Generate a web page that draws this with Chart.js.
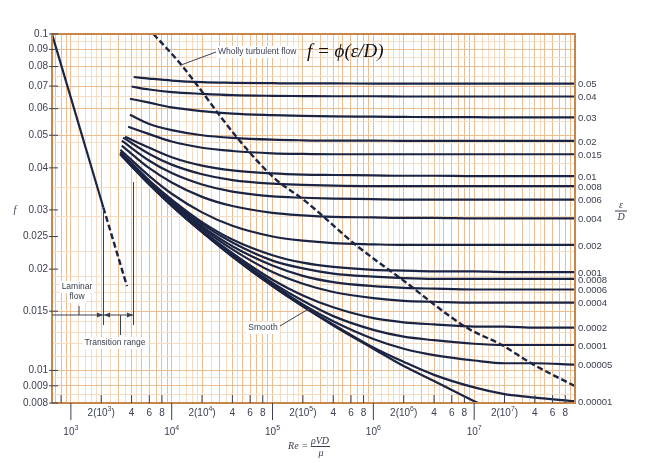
<!DOCTYPE html>
<html>
<head>
<meta charset="utf-8">
<script src="https://cdn.jsdelivr.net/npm/chart.js@4.4.1/dist/chart.umd.min.js"></script>
<style>
  html, body { margin: 0; background: #fff; }
</style>
</head>
<body>
<canvas id="myChart" width="656" height="463"></canvas>
<script>
// Reynolds numbers shared by every roughness curve (after its own start point)
const reGrid = [6e3, 1e4, 2e4, 4e4, 1e5, 2e5, 4e5, 1e6, 2e6, 4e6, 1e7, 2e7, 4e7, 1e8];

const roughLabels = ["0.05", "0.04", "0.03", "0.02", "0.015", "0.01", "0.008", "0.006", "0.004",
    "0.002", "0.001", "0.0008", "0.0006", "0.0004", "0.0002", "0.0001", "0.00005", "0.00001", "smooth"];
const startRe = [4200, 4000, 3850, 3850, 3700, 3450, 3300, 3200, 3200,
    3100, 3100, 3100, 3100, 3100, 3100, 3100, 3100, 3100, 3100];
const startF = [0.0745, 0.0698, 0.0642, 0.0575, 0.0530, 0.0495, 0.0492, 0.0482, 0.0466,
    0.0453, 0.0446, 0.0444, 0.0443, 0.0441, 0.0440, 0.0439, 0.0439, 0.0439, 0.0439];
const fValues = [
    [0.0737, 0.0727, 0.0719, 0.0716, 0.0714, 0.0713, 0.0713, 0.0712, 0.0712, 0.0712, 0.0712, 0.0712, 0.0712, 0.0712],
    [0.0684, 0.0672, 0.0664, 0.0658, 0.0655, 0.0654, 0.0653, 0.0653, 0.0652, 0.0652, 0.0652, 0.0652, 0.0652, 0.0652],
    [0.0625, 0.0605, 0.0590, 0.0580, 0.0574, 0.0571, 0.0569, 0.0568, 0.0567, 0.0566, 0.0566, 0.0565, 0.0565, 0.0565],
    [0.0540, 0.0518, 0.0500, 0.0491, 0.0485, 0.0483, 0.0482, 0.0482, 0.0481, 0.0481, 0.0481, 0.0481, 0.0481, 0.0481],
    [0.0504, 0.0479, 0.0459, 0.0449, 0.0442, 0.0440, 0.0439, 0.0439, 0.0439, 0.0439, 0.0439, 0.0439, 0.0439, 0.0439],
    [0.0459, 0.0430, 0.0406, 0.0393, 0.0385, 0.0382, 0.0381, 0.0380, 0.0379, 0.0379, 0.0378, 0.0378, 0.0378, 0.0378],
    [0.0440, 0.0409, 0.0383, 0.0368, 0.0359, 0.0356, 0.0354, 0.0353, 0.0353, 0.0353, 0.0353, 0.0353, 0.0353, 0.0353],
    [0.0420, 0.0386, 0.0357, 0.0340, 0.0329, 0.0326, 0.0324, 0.0323, 0.0322, 0.0322, 0.0322, 0.0322, 0.0322, 0.0322],
    [0.0399, 0.0362, 0.0328, 0.0308, 0.0294, 0.0289, 0.0286, 0.0285, 0.0284, 0.0284, 0.0283, 0.0283, 0.0283, 0.0283],
    [0.0378, 0.0335, 0.0295, 0.0269, 0.0250, 0.0243, 0.0239, 0.0237, 0.0236, 0.0236, 0.0236, 0.0236, 0.0236, 0.0236],
    [0.0367, 0.0322, 0.0276, 0.0245, 0.0220, 0.0209, 0.0203, 0.0199, 0.0198, 0.0197, 0.0197, 0.0196, 0.0196, 0.0196],
    [0.0365, 0.0319, 0.0272, 0.0240, 0.0212, 0.0201, 0.0194, 0.0190, 0.0188, 0.0187, 0.0187, 0.0187, 0.0187, 0.0187],
    [0.0363, 0.0316, 0.0268, 0.0234, 0.0205, 0.0191, 0.0183, 0.0178, 0.0176, 0.0175, 0.0174, 0.0174, 0.0174, 0.0174],
    [0.0361, 0.0314, 0.0265, 0.0229, 0.0196, 0.0181, 0.0171, 0.0164, 0.0161, 0.0160, 0.0159, 0.0159, 0.0159, 0.0159],
    [0.0359, 0.0311, 0.0261, 0.0223, 0.0186, 0.0167, 0.0154, 0.0143, 0.0139, 0.0137, 0.0135, 0.0135, 0.0134, 0.0134],
    [0.0358, 0.0310, 0.0259, 0.0220, 0.0182, 0.0161, 0.0145, 0.0132, 0.0126, 0.0123, 0.0120, 0.0119, 0.0119, 0.0119],
    [0.0358, 0.0309, 0.0258, 0.0219, 0.0180, 0.0157, 0.0140, 0.0124, 0.0116, 0.0111, 0.0107, 0.0105, 0.0105, 0.0104],
    [0.0357, 0.0309, 0.0258, 0.0218, 0.0178, 0.0155, 0.0137, 0.0117, 0.0106, 0.0097, 0.0089, 0.0085, 0.0083, 0.0081],
    [0.0357, 0.0309, 0.0258, 0.0218, 0.0178, 0.0155, 0.0136, 0.0116, 0.0103, 0.0093, 0.0081, 0.0074, 0.0068, 0.0060]
];

// laminar line (solid part, then dashed part into the transition range)
const laminarRe = [650, 2100];
const laminarF = [0.1, 0.0305];
const laminarDashRe = [2100, 3600];
const laminarDashF = [0.0305, 0.0178];

// wholly turbulent boundary (dashed)
const turbRe = [6590, 12150, 44550, 103000, 213000, 670000, 1.877e6, 8.32e6, 1.856e7, 3.84e7, 1e8];
const turbF = [0.1, 0.0817, 0.0492, 0.0374, 0.0318, 0.0236, 0.01874, 0.01343, 0.01192, 0.01042, 0.00898];

// tick labels
const yTickValues = [0.1, 0.09, 0.08, 0.07, 0.06, 0.05, 0.04, 0.03, 0.025, 0.02, 0.015, 0.01, 0.009, 0.008];
const yTickLabels = ["0.1", "0.09", "0.08", "0.07", "0.06", "0.05", "0.04", "0.03", "0.025", "0.02", "0.015", "0.01", "0.009", "0.008"];
const xDecades = [1e3, 1e4, 1e5, 1e6, 1e7];
const xDecadeLabels = ["10³", "10⁴", "10⁵", "10⁶", "10⁷"];
const xMinorValues = [2e3, 4e3, 6e3, 8e3, 2e4, 4e4, 6e4, 8e4, 2e5, 4e5, 6e5, 8e5, 2e6, 4e6, 6e6, 8e6, 2e7, 4e7, 6e7, 8e7];
const xMinorLabels = ["2(10³)", "4", "6", "8", "2(10⁴)", "4", "6", "8", "2(10⁵)", "4", "6", "8",
    "2(10⁶)", "4", "6", "8", "2(10⁷)", "4", "6", "8"];

const ink = "#1b2442";
const textCol = "#3b4150";
const frameCol = "#c8874a";

// grid positions
const xGrid = [];
[1, 1.2, 1.4, 1.6, 1.8, 2, 2.5, 3, 3.5, 4, 4.5, 5, 6, 7, 8, 9].forEach(m => {
    for (let d = 2; d <= 7; d++) {
        const v = m * Math.pow(10, d);
        if (v >= 650 && v <= 1e8) xGrid.push(v);
    }
});
xGrid.push(1e8);
xGrid.sort((a, b) => a - b);
const yGrid = [];
for (let i = 100; i >= 50; i -= 5) yGrid.push(i / 1000);
for (let i = 190; i >= 80; i -= 25) yGrid.push(i / 4000);
for (let i = 19; i >= 10; i--) yGrid.push(i / 1000);
for (let i = 19; i >= 16; i--) yGrid.push(i / 2000);

function isMain(v) {
    const m = v / Math.pow(10, Math.floor(Math.log10(v) + 1e-9));
    return Math.abs(m - Math.round(m)) < 1e-6;
}

const datasets = [];
roughLabels.forEach((lab, i) => {
    const pts = [{ x: startRe[i], y: startF[i] }];
    reGrid.forEach((re, j) => pts.push({ x: re, y: fValues[i][j] }));
    datasets.push({
        label: lab,
        data: pts,
        borderColor: ink,
        borderWidth: 2.2,
        pointRadius: 0,
        fill: false,
        cubicInterpolationMode: "monotone"
    });
});
datasets.push({
    label: "laminar",
    data: laminarRe.map((re, i) => ({ x: re, y: laminarF[i] })),
    borderColor: ink, borderWidth: 2.2, pointRadius: 0, fill: false
});
datasets.push({
    label: "laminar-dash",
    data: laminarDashRe.map((re, i) => ({ x: re, y: laminarDashF[i] })),
    borderColor: ink, borderWidth: 2.4, borderDash: [6, 3], pointRadius: 0, fill: false
});
datasets.push({
    label: "turbulent",
    data: turbRe.map((re, i) => ({ x: re, y: turbF[i] })),
    borderColor: ink, borderWidth: 2.4, borderDash: [6, 3], pointRadius: 0, fill: false,
    cubicInterpolationMode: "monotone"
});

function line(ctx, x1, y1, x2, y2) {
    ctx.beginPath(); ctx.moveTo(x1, y1); ctx.lineTo(x2, y2); ctx.stroke();
}
function arrowHead(ctx, x, y, dir) {
    ctx.beginPath();
    ctx.moveTo(x, y);
    ctx.lineTo(x - dir * 6, y - 2.5);
    ctx.lineTo(x - dir * 6, y + 2.5);
    ctx.closePath(); ctx.fill();
}
function boxText(ctx, txt, x, y, align) {
    ctx.textAlign = align || "center";
    const w = ctx.measureText(txt).width;
    const left = align === "left" ? x : x - w / 2;
    ctx.fillStyle = "#fff";
    ctx.fillRect(left - 2, y - 6, w + 4, 12);
    ctx.fillStyle = textCol;
    ctx.fillText(txt, x, y);
}

// draws text whose superscript digits are set smaller and raised
const supMap = { "³": "3", "⁴": "4", "⁵": "5", "⁶": "6", "⁷": "7" };
const baseFont = "10px 'Liberation Sans', Arial, sans-serif";
const supFont = "7px 'Liberation Sans', Arial, sans-serif";
function richText(ctx, txt, cx, y) {
    const runs = [];
    for (const ch of txt) {
        const sup = supMap[ch] !== undefined;
        const c = sup ? supMap[ch] : ch;
        if (runs.length && runs[runs.length - 1].sup === sup) runs[runs.length - 1].t += c;
        else runs.push({ t: c, sup: sup });
    }
    let total = 0;
    runs.forEach(r => { ctx.font = r.sup ? supFont : baseFont; r.w = ctx.measureText(r.t).width; total += r.w; });
    let x = cx - total / 2;
    ctx.textAlign = "left";
    runs.forEach(r => {
        ctx.font = r.sup ? supFont : baseFont;
        ctx.fillText(r.t, x, r.sup ? y - 4 : y);
        x += r.w;
    });
}

const moodyDecor = {
    id: "moodyDecor",
    afterDatasetsDraw(chart) {
        const ctx = chart.ctx;
        const xs = chart.scales.x, ys = chart.scales.y;
        const a = chart.chartArea;
        ctx.save();
        // frame
        ctx.strokeStyle = frameCol; ctx.lineWidth = 2;
        ctx.strokeRect(a.left, a.top, a.right - a.left, a.bottom - a.top);

        ctx.font = baseFont;
        ctx.textBaseline = "middle";
        ctx.strokeStyle = textCol; ctx.lineWidth = 1;
        // y ticks
        ctx.fillStyle = textCol; ctx.textAlign = "right";
        yTickValues.forEach((v, i) => {
            const y = ys.getPixelForValue(v);
            line(ctx, a.left - 3, y, a.left + 6, y);
            ctx.fillText(yTickLabels[i], a.left - 4, y);
        });
        // x ticks
        xMinorValues.forEach((v, i) => {
            const x = xs.getPixelForValue(v);
            line(ctx, x, a.bottom - 8, x, a.bottom);
            richText(ctx, xMinorLabels[i], x, a.bottom + 10);
        });
        line(ctx, xs.getPixelForValue(800), a.bottom - 8, xs.getPixelForValue(800), a.bottom);
        xDecades.forEach((v, i) => {
            const x = xs.getPixelForValue(v);
            line(ctx, x, a.bottom, x, a.bottom + 17);
            richText(ctx, xDecadeLabels[i], x, a.bottom + 29);
        });

        // right-hand roughness labels
        ctx.textAlign = "left";
        ctx.font = "9.5px 'Liberation Sans', Arial, sans-serif";
        roughLabels.forEach((lab, i) => {
            if (lab === "smooth") return;
            const f = fValues[i][fValues[i].length - 1];
            const y = ys.getPixelForValue(f);
            ctx.fillText(lab, a.right + 3, y + 1);
        });

        // axis titles
        ctx.font = "italic 10px 'Liberation Serif', serif";
        ctx.textAlign = "center";
        ctx.fillText("f", 15, 210);
        ctx.fillText("ε", 621, 205);
        ctx.fillText("D", 621, 217);
        line(ctx, 615, 211, 627, 211);
        ctx.fillText("Re =", 298, 446);
        ctx.fillText("ρVD", 320, 441);
        line(ctx, 311, 446.5, 330, 446.5);
        ctx.fillText("μ", 321, 453);

        // formula
        ctx.font = "italic 19px 'Liberation Serif', 'DejaVu Serif', serif";
        ctx.textAlign = "left";
        ctx.fillStyle = "#111";
        ctx.fillText("f = ϕ(ε/D)", 307, 52);

        // annotations
        ctx.font = "8.5px 'Liberation Sans', Arial, sans-serif";
        boxText(ctx, "Wholly turbulent flow", 218, 52, "left");
        line(ctx, 216, 52, 181, 65);
        boxText(ctx, "Laminar", 77, 287);
        boxText(ctx, "flow", 77, 297);
        boxText(ctx, "Transition range", 115, 343);
        boxText(ctx, "Smooth", 263, 328);
        ctx.strokeStyle = textCol;
        line(ctx, 280, 326, 310, 308);
        // transition bracket
        line(ctx, 103.5, 210, 103.5, 325);
        line(ctx, 133.5, 182, 133.5, 325);
        line(ctx, a.left, 315, 133.5, 315);
        line(ctx, 79, 306, 79, 315);
        line(ctx, 120.5, 315, 120.5, 335);
        ctx.fillStyle = textCol;
        arrowHead(ctx, 103, 315, 1);
        arrowHead(ctx, 104, 315, -1);
        arrowHead(ctx, 133, 315, 1);
        ctx.restore();
    }
};

new Chart("myChart", {
    type: "line",
    data: { datasets: datasets },
    options: {
        responsive: false,
        animation: false,
        parsing: false,
        layout: { padding: { left: 52, right: 81, top: 34, bottom: 60 } },
        plugins: { legend: { display: false }, tooltip: { enabled: false } },
        scales: {
            x: {
                type: "logarithmic",
                min: 650, max: 1e8,
                afterBuildTicks: s => { s.ticks = xGrid.map(v => ({ value: v })); },
                afterFit: s => { s.height = 0; },
                ticks: { display: false },
                border: { display: false },
                grid: {
                    drawTicks: false,
                    lineWidth: 1,
                    color: c => isMain(c.tick.value) ? "#ecbd92" : "#f6dcc3"
                }
            },
            y: {
                type: "logarithmic",
                min: 0.008, max: 0.1,
                afterBuildTicks: s => { s.ticks = yGrid.map(v => ({ value: v })); },
                afterFit: s => { s.width = 0; },
                ticks: { display: false },
                border: { display: false },
                grid: {
                    drawTicks: false,
                    lineWidth: 1,
                    color: c => (yTickValues.includes(c.tick.value)) ? "#ecbd92" : "#f6dcc3"
                }
            }
        }
    },
    plugins: [moodyDecor]
});
</script>
</body>
</html>
